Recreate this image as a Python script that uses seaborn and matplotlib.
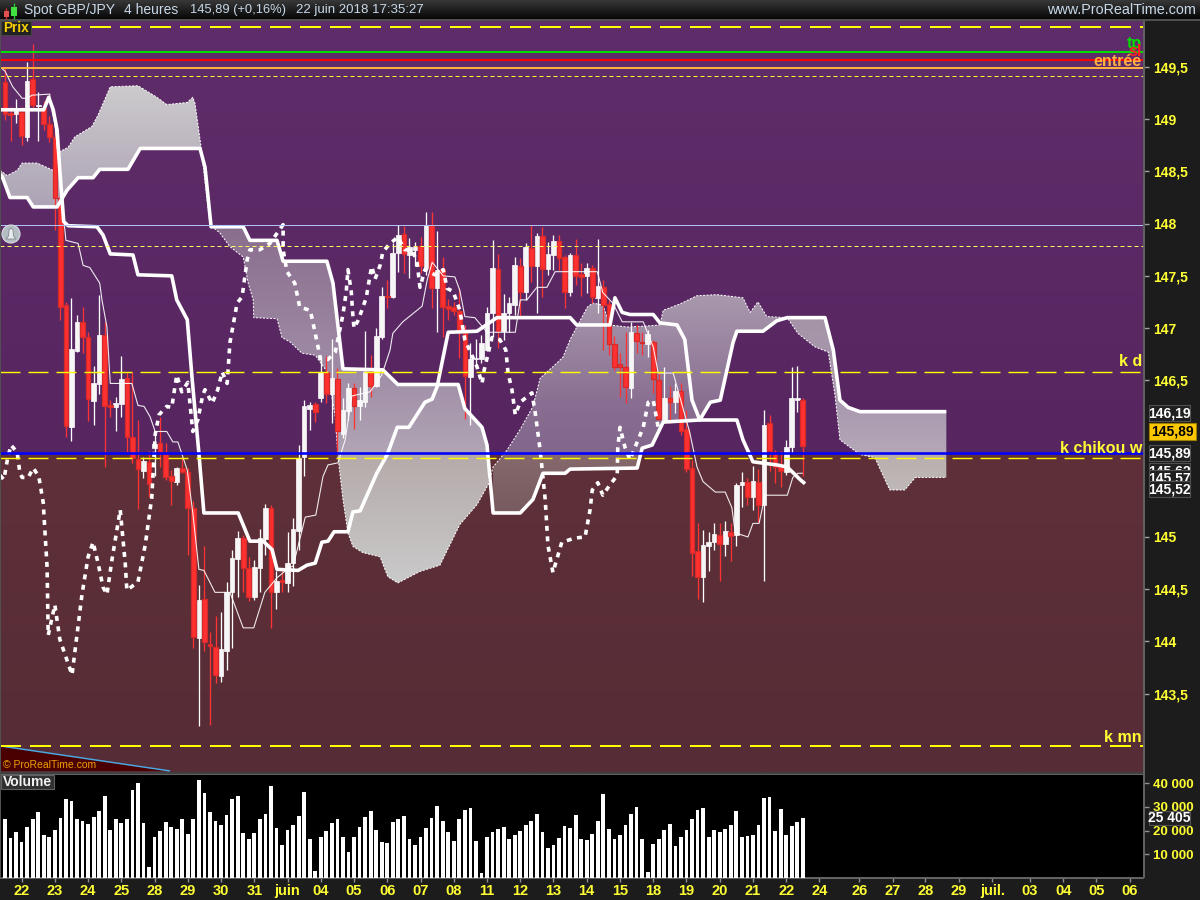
import numpy as np
import pandas as pd
import matplotlib
matplotlib.use("Agg")
import matplotlib.pyplot as plt
from matplotlib.colors import to_rgb
from matplotlib.patches import Rectangle, Polygon, Circle
import seaborn as sns

# ---------- data: candles (price units, one entry per 4h bar) ----------
directions = ("RRWRWRWRRR" "RRWWRRWWRR" "WWRRRWRWRR" "RWRRRWRRRW" "WWWRRWWWRW"
              "RWWWWWRWRW" "RWWRWWRWWR" "WWRWWRWRWR" "RRRRWWWWWR" "WWWRWRWRWW"
              "RRWRRWRWRR" "RRRWRRWRRW" "RWRRRRWWWR" "WRWWRWRWRR" "RWWWR")
highs = [149.49,149.12,149.19,149.12,149.55,149.72,149.26,149.17,149.03,148.90,
         148.32,147.25,147.29,147.13,147.20,146.96,146.64,147.32,147.06,146.31,
         146.34,146.73,146.58,146.58,146.12,145.77,145.82,146.01,146.15,145.90,
         145.64,145.67,145.77,145.66,145.34,144.54,144.91,144.09,144.24,144.28,
         144.57,144.88,145.06,145.02,144.81,144.78,145.08,145.32,145.31,144.67,
         144.70,145.05,145.18,145.88,146.31,146.29,146.29,146.72,146.73,146.90,
         146.62,146.33,146.47,146.47,146.44,146.97,146.74,147.00,147.39,147.46,
         147.81,147.99,147.98,147.86,147.82,147.87,148.11,148.11,147.93,147.68,
         147.28,147.25,147.38,147.03,146.86,146.90,146.93,147.20,147.84,147.71,
         147.33,147.30,147.68,147.67,147.81,147.99,147.91,147.97,147.82,147.89,
         147.89,147.70,147.72,147.85,147.62,147.62,147.60,147.85,147.46,147.27,
         146.92,146.76,146.96,147.06,147.03,146.96,146.98,146.89,146.57,146.63,
         146.45,146.47,146.47,146.22,145.74,145.13,145.07,145.05,145.13,145.13,
         145.15,145.13,145.52,145.62,145.56,145.68,145.65,146.22,146.17,145.83,
         145.82,145.93,146.63,146.64,146.33]
body_tops = [149.36,149.06,149.08,149.07,149.37,149.38,149.14,149.11,148.95,148.83,
         148.25,147.22,146.80,147.06,147.06,146.91,146.47,146.93,146.93,146.26,
         146.28,146.51,146.52,145.96,145.75,145.73,145.72,145.89,145.90,145.81,
         145.58,145.66,145.66,145.62,145.28,144.40,144.41,143.98,143.95,143.93,
         144.47,144.80,144.99,144.99,144.70,144.71,144.99,145.28,145.28,144.58,
         144.59,144.75,145.08,145.76,146.25,146.26,146.27,146.58,146.58,146.52,
         146.51,146.22,146.43,146.43,146.31,146.58,146.58,146.92,147.31,147.31,
         147.72,147.89,147.90,147.78,147.78,147.79,147.99,147.99,147.56,147.57,
         147.21,147.20,147.16,146.95,146.70,146.71,146.86,147.14,147.58,147.57,
         147.14,147.24,147.60,147.59,147.78,147.77,147.88,147.88,147.71,147.83,
         147.83,147.68,147.70,147.70,147.52,147.58,147.58,147.40,147.39,147.23,
         146.85,146.66,146.63,146.96,146.95,146.87,146.94,146.87,146.50,146.33,
         146.33,146.40,146.40,146.03,145.66,144.87,144.92,144.95,145.03,145.02,
         145.06,145.05,145.50,145.53,145.53,145.54,145.53,146.07,146.09,145.81,
         145.67,145.86,146.33,146.33,146.31]
body_bottoms = [149.05,149.04,149.05,148.84,148.83,149.14,149.13,148.95,148.83,148.25,
         147.20,146.06,146.05,146.78,146.91,146.32,146.30,146.46,146.25,146.24,
         146.24,146.27,145.96,145.76,145.65,145.63,145.51,145.85,145.81,145.57,
         145.54,145.53,145.62,145.28,144.04,144.03,143.99,143.96,143.68,143.67,
         143.91,144.47,144.79,144.70,144.43,144.43,144.70,144.98,144.47,144.47,
         144.57,144.56,144.75,145.06,145.77,146.23,146.20,146.33,146.37,146.37,
         146.01,145.99,146.21,146.25,146.25,146.29,146.45,146.45,146.91,147.30,
         147.30,147.72,147.71,147.70,147.75,147.59,147.58,147.38,147.38,147.20,
         147.18,147.16,146.98,146.54,146.53,146.70,146.70,146.79,147.14,146.97,
         146.97,147.14,147.22,147.35,147.35,147.59,147.59,147.57,147.57,147.70,
         147.67,147.35,147.35,147.50,147.49,147.50,147.30,147.29,147.22,146.85,
         146.63,146.63,146.44,146.43,146.88,146.86,146.85,146.51,146.13,146.12,
         146.29,146.29,146.01,145.65,144.85,144.62,144.62,144.91,144.95,144.93,
         144.93,145.01,145.02,145.50,145.38,145.38,145.31,145.31,145.82,145.67,
         145.63,145.62,145.86,146.31,145.87]
lows = [148.99,148.79,148.96,148.75,148.79,149.11,148.79,148.90,148.78,147.94,
         147.08,145.96,145.92,146.77,146.76,146.11,146.07,146.37,145.67,146.15,
         146.01,146.15,145.81,145.71,145.27,145.56,145.38,145.58,145.67,145.55,
         145.31,145.50,145.61,144.83,143.94,143.19,143.91,143.20,143.60,143.61,
         143.73,143.94,144.43,144.47,144.39,144.40,144.47,144.83,144.13,144.31,
         144.47,144.47,144.53,144.88,145.58,146.02,146.10,146.29,146.28,146.09,
         145.82,145.95,146.12,146.03,146.12,146.24,146.34,146.44,146.90,147.19,
         147.29,147.54,147.53,147.48,147.59,147.53,147.51,147.19,146.96,146.91,
         147.08,147.13,146.71,146.13,146.07,146.62,146.67,146.78,146.91,146.81,
         146.89,146.96,147.13,147.11,147.27,147.44,147.14,147.30,147.51,147.56,
         147.55,147.19,147.31,147.41,147.31,147.34,147.24,147.14,146.79,146.74,
         146.60,146.34,146.28,146.33,146.76,146.74,146.72,146.38,146.12,146.10,
         146.09,146.19,145.98,145.62,144.63,144.41,144.38,144.67,144.88,144.58,
         144.82,144.77,144.91,145.29,145.31,145.26,145.14,144.58,145.63,145.52,
         145.48,145.59,145.80,146.20,145.58]
volumes = [24700,16700,19300,15000,21400,24700,27700,18000,17200,20100,
         25200,33200,32300,24700,23900,22600,25600,28100,34400,20100,
         24700,23100,24700,37000,39900,23100,4500,17200,19700,23500,
         21400,20500,24700,18400,24700,41200,35700,27700,23900,22200,
         26400,33200,34400,18800,16300,18800,24700,26900,38700,20900,
         13800,20100,22200,26000,36100,16300,2800,17200,19700,23100,
         24700,17200,10800,17200,21400,25600,28100,20100,15000,14600,
         23500,24700,26000,16300,13800,17200,20900,25200,30200,23900,
         19300,15500,24700,28500,29400,15500,2000,17200,19300,20500,
         21400,16300,18000,19700,22200,23900,26900,19300,12500,13800,
         16700,21800,20900,26400,16300,15900,18400,23900,35300,20500,
         16300,18000,22200,26900,29800,16300,2400,14200,16300,20100,
         22600,13400,17200,20100,24700,28500,29400,17200,20100,19300,
         20500,22200,28100,17200,17600,18000,22200,33600,34000,19700,
         29000,18000,21800,23500,25200]

# ---------- data: indicator series (bar position, price) ----------
kijun_bar = [-0.9,7.0,7.9,8.7,9.4,9.9,10.6,11.4,16.6,17.7,19.0,23.1,24.0,30.1,31.0,32.9,33.8,35.0,35.9,42.1,
             44.2,46.6,48.2,49.1,52.9,54.5,56.0,57.2,58.3,59.4,61.9,62.8,64.1,67.1,69.0,70.8,72.9,75.8,77.1,78.0,
             80.0,85.2,88.8,102.0,103.2,109.2,110.1,111.4,112.8,117.0,118.2,121.3,122.7,124.0,125.4,132.1,133.2,135.0,139.3,141.2,143.5,144.4]
kijun_price = [149.09,149.09,149.21,149.09,148.90,148.51,148.02,147.98,147.97,147.89,147.71,147.70,147.51,147.50,147.27,147.08,146.50,145.80,145.23,145.23,
             144.96,144.96,144.88,144.69,144.68,144.73,144.75,144.95,144.96,145.05,145.05,145.24,145.25,145.61,145.79,146.05,146.05,146.29,146.32,146.44,
             146.96,146.97,147.10,147.10,147.03,147.03,147.29,147.15,147.13,147.13,147.05,147.03,146.89,146.31,146.12,146.12,145.93,145.72,145.69,145.67,145.55,145.51]
ssb_bar = [-0.9,-0.5,0.9,4.0,5.1,9.4,11.2,13.2,15.9,17.1,22.2,24.4,35.2,36.1,37.2,43.0,44.2,49.1,50.2,58.1,
           59.2,61.0,68.2,70.9,81.8,83.0,86.1,87.0,88.1,93.0,95.3,97.1,101.1,102.0,114.1,115.0,116.8,118.8,125.4,127.3,
           129.1,131.4,132.1,136.8,139.3,141.2,148.0,149.5,150.7,152.2,154.3,169.9]
ssb_price = [148.47,148.45,148.25,148.25,148.16,148.16,148.32,148.44,148.44,148.52,148.52,148.72,148.72,148.54,147.97,147.97,147.84,147.84,147.64,147.64,
           147.43,146.61,146.60,146.46,146.46,146.23,146.05,145.88,145.23,145.23,145.36,145.61,145.61,145.65,145.66,145.85,145.88,146.10,146.12,146.29,
           146.31,146.86,146.97,146.97,147.07,147.10,147.10,146.79,146.31,146.24,146.20,146.20]
ssa_bar = [-0.9,0.4,2.2,3.1,5.8,8.7,9.9,11.4,12.6,15.7,16.8,19.0,24.0,27.4,29.2,32.9,33.9,34.3,35.4,37.0,
           38.8,40.6,43.0,43.9,44.8,44.9,49.1,50.0,51.4,53.6,56.0,58.3,59.6,60.1,61.0,61.9,62.8,64.6,67.7,69.1,
           70.9,74.9,78.5,82.1,85.2,87.2,88.1,90.6,93.0,95.3,96.6,98.9,100.7,102.0,103.4,105.1,106.1,107.9,109.2,112.3,
           115.9,118.2,118.8,121.8,124.9,128.5,133.2,134.5,135.9,137.5,141.2,143.1,146.2,148.6,149.8,150.7,154.3,157.0,159.7,162.4,164.3,169.9]
ssa_price = [148.51,148.46,148.51,148.58,148.58,148.51,148.69,148.73,148.83,148.93,149.04,149.31,149.32,149.21,149.14,149.16,149.21,149.15,148.73,147.99,
           147.91,147.78,147.68,147.43,147.27,147.10,147.09,146.91,146.87,146.76,146.74,146.57,146.15,145.77,145.36,145.04,144.91,144.85,144.81,144.62,
           144.56,144.67,144.73,145.12,145.31,145.50,145.67,145.83,146.03,146.25,146.52,146.63,146.72,146.89,147.03,147.20,147.24,147.22,147.03,147.01,
           147.02,147.03,147.17,147.23,147.31,147.32,147.29,147.15,147.25,147.11,147.10,146.95,146.82,146.77,146.36,145.93,145.79,145.76,145.45,145.45,145.57,145.57]
tenkan_bar = [-0.9,0.0,1.4,3.1,4.0,4.9,8.1,8.1,9.0,9.9,10.5,11.0,13.2,14.1,15.3,17.1,17.5,18.4,19.0,22.9,
              24.0,25.1,26.2,27.1,29.2,30.3,31.2,32.9,33.9,35.0,35.9,37.9,40.6,43.0,44.9,46.9,49.1,51.4,52.0,54.2,
              56.1,57.4,58.3,60.1,61.4,62.6,65.9,68.0,69.5,70.0,71.8,75.3,76.2,77.1,79.1,81.2,82.1,83.0,84.8,87.0,
              92.1,93.0,94.2,96.0,97.8,99.3,106.9,107.9,109.7,111.4,115.2,117.0,117.9,120.6,123.6,124.9,126.0,128.2,130.0,131.2,
              131.8,134.1,135.0,136.1,137.2,141.2,142.2,143.1,144.0]
tenkan_price = [149.50,149.46,149.31,149.20,149.20,149.23,149.24,149.18,148.96,148.47,148.10,147.84,147.81,147.60,147.58,147.43,147.27,147.01,146.47,146.47,
              146.26,146.25,146.15,146.01,146.01,145.91,145.91,145.64,145.23,144.69,144.68,144.47,144.47,144.13,144.13,144.47,144.61,144.71,144.72,145.19,
              145.21,145.58,145.69,145.71,145.93,146.35,146.39,146.55,146.79,146.95,147.06,147.21,147.46,147.63,147.50,147.49,147.36,147.11,147.10,146.96,
              146.96,147.27,147.27,147.39,147.39,147.54,147.54,147.34,147.24,147.06,147.06,146.82,146.57,146.57,146.00,145.67,145.53,145.43,145.43,145.28,
              145.04,145.00,145.13,145.13,145.40,145.40,145.57,145.61,145.61]
chikou_bar = [-0.9,-0.2,0.5,1.1,2.2,2.7,3.1,4.2,5.1,6.1,6.9,7.6,7.8,9.0,9.9,12.1,13.9,15.0,15.9,16.8,
              17.7,18.4,19.3,20.8,21.7,22.0,24.0,25.3,26.5,27.1,27.8,29.2,30.1,31.0,31.9,33.0,33.9,34.8,35.7,36.1,
              37.4,38.4,39.2,40.1,40.6,41.9,42.8,43.7,44.2,46.0,47.8,50.2,50.2,50.9,52.3,53.2,55.1,55.6,56.5,56.9,
              58.3,59.6,60.5,61.0,61.6,61.9,62.5,62.8,63.0,63.7,64.4,65.2,65.9,66.2,66.8,67.7,68.2,69.5,70.9,72.2,
              73.5,74.4,74.9,75.8,77.6,79.1,79.8,80.9,82.1,83.0,85.2,86.1,86.5,87.9,89.3,90.4,90.8,91.5,92.1,93.0,
              95.1,95.7,96.6,97.5,98.0,98.9,100.5,102.9,104.7,105.6,106.0,107.0,107.9,109.2,110.5,110.6,111.0,111.9,112.8,115.2,
              116.1,117.0,117.9]
chikou_price = [145.59,145.55,145.76,145.88,145.81,145.61,145.57,145.57,145.66,145.58,145.33,144.71,144.06,144.35,144.02,143.68,144.45,144.81,144.95,144.75,
              144.52,144.45,144.78,145.26,144.75,144.49,144.57,144.92,145.38,145.98,146.17,146.25,146.24,146.55,146.39,146.48,146.01,146.12,146.36,146.41,
              146.28,146.41,146.58,146.47,146.86,147.24,147.30,147.65,147.75,147.75,147.81,147.99,147.75,147.54,147.43,147.20,147.17,147.05,146.82,146.71,
              146.70,146.77,147.00,147.13,147.35,147.56,147.35,147.11,147.00,147.07,147.17,147.29,147.51,147.59,147.47,147.60,147.73,147.81,147.87,147.75,
              147.75,147.62,147.39,147.56,147.51,147.56,147.38,147.35,147.17,146.89,146.63,146.47,146.60,146.91,146.89,146.79,146.57,146.41,146.17,146.29,
              146.38,146.19,145.83,145.36,144.92,144.66,144.95,144.99,145.00,145.26,145.45,145.52,145.40,145.50,145.59,145.85,146.05,145.86,145.74,146.05,
              146.29,146.31,146.05]

# ---------- data: levels, ticks ----------
level_top, level_tp, level_sl, level_entry, level_dash1 = 149.88, 149.64, 149.57, 149.49, 149.41
level_blue, level_dash2, level_kd, level_chikou, level_dash3, level_kmn = 147.99, 147.79, 146.58, 145.80, 145.76, 143.0
price_ticks = [149.5, 149, 148.5, 148, 147.5, 147, 146.5, 145, 144.5, 144, 143.5]
price_tick_labels = ["149,5", "149", "148,5", "148", "147,5", "147", "146,5", "145", "144,5", "144", "143,5"]
volume_ticks = [10000, 20000, 30000, 40000]
volume_tick_labels = ["10 000", "20 000", "30 000", "40 000"]
date_ticks = [3, 9, 15, 21, 27, 33, 39, 45, 51, 57, 63, 69, 75, 81, 87, 93, 99, 105, 111, 117, 123, 129, 135, 141,
              147, 154.2, 160.2, 166.1, 172.1, 178.2, 185, 191, 197, 203]
date_labels = ["22", "23", "24", "25", "28", "29", "30", "31", "juin", "04", "05", "06", "07", "08", "11", "12", "13",
               "14", "15", "18", "19", "20", "21", "22", "24", "26", "27", "28", "29", "juil.", "03", "04", "05", "06"]

# ---------- style ----------
sns.set_theme(style="dark")
NARROW = ["Liberation Sans Narrow", "Liberation Sans", "DejaVu Sans"]
plt.rcParams["font.family"] = ["Liberation Sans", "DejaVu Sans"]
plt.rcParams["lines.scale_dashes"] = False
plt.rcParams["lines.solid_capstyle"] = "butt"
plt.rcParams["lines.dash_capstyle"] = "butt"
plt.rcParams["lines.solid_joinstyle"] = "round"
PX = 0.72
YEL = "#ffff33"
PANEL = "#1c1c1c"

fig = plt.figure(figsize=(12, 9), dpi=100, facecolor=PANEL)
ax = fig.add_axes([0, (900 - 772) / 900, 1143 / 1200, (772 - 21) / 900])
axv = fig.add_axes([0, (900 - 878) / 900, 1143 / 1200, (878 - 774) / 900], facecolor="black")
XMIN, XMAX = -0.9, 205.4
YMIN, YMAX = 142.75, 149.94


def gradient(axis, stops, extent, zorder):
    prices = np.array([s[0] for s in stops], float)
    cols = np.array([to_rgb(s[1]) for s in stops])
    grid = np.linspace(extent[3], extent[2], 500)
    order = np.argsort(prices)
    img = np.stack([np.interp(grid, prices[order], cols[order][:, k]) for k in range(3)], axis=1)[:, None, :]
    return axis.imshow(img, extent=extent, aspect="auto", origin="upper", zorder=zorder, interpolation="bilinear")


# background
gradient(ax, [(149.94, "#5f2e6a"), (145.80, "#572661"), (145.799, "#5f3039"), (142.75, "#562c36")],
         [XMIN, XMAX, YMIN, YMAX], 0)
ax.add_patch(Polygon([(XMIN, 143.0), (29.8, 142.76), (XMIN, 142.76)], closed=True, facecolor="#4a0000", edgecolor="none", zorder=1))
sns.lineplot(x=[XMIN, 29.8], y=[143.0, 142.76], color="#4aa8e0", lw=1.5 * PX, ax=ax, zorder=1.1, estimator=None, errorbar=None, sort=False)

# clouds
xs = np.unique(np.concatenate([np.array(ssa_bar), np.array(ssb_bar)]))
a_i = np.interp(xs, ssa_bar, ssa_price)
b_i = np.interp(xs, ssb_bar, ssb_price)
clouds = [
    (-0.9, 35.4, [(149.32, "#cdcbcd"), (148.2, "#aea4b6")]),
    (37.0, 87.4, [(147.97, "#8a6e8e"), (146.6, "#a08ca6"), (145.80, "#b0a5b5"), (145.79, "#b5aaaa"), (144.55, "#cacaca")]),
    (87.4, 141.2, [(147.3, "#a898ad"), (146.3, "#8a6f92"), (145.80, "#82668c"), (145.79, "#86696c"), (145.2, "#775a5e")]),
    (141.2, 169.9, [(147.1, "#a594a8"), (146.2, "#aa9bb0"), (145.80, "#b5a8b8"), (145.79, "#b8aeae"), (145.45, "#c0b8b8")]),
]
for x0, x1, stops in clouds:
    m = (xs >= x0) & (xs <= x1)
    poly = ax.fill_between(xs[m], a_i[m], b_i[m], facecolor="none", edgecolor="none", zorder=2)
    lo, hi = min(a_i[m].min(), b_i[m].min()), max(a_i[m].max(), b_i[m].max())
    im = gradient(ax, stops, [x0, x1, lo, hi], 2)
    im.set_clip_path(poly.get_paths()[0], transform=ax.transData)
sns.lineplot(x=ssa_bar, y=ssa_price, color="white", lw=1.0 * PX, linestyle=(0, (2 * PX, 1.5 * PX)), ax=ax,
             zorder=2.5, estimator=None, errorbar=None, sort=False)

# candles
bars = np.arange(len(highs))
up = np.array([d == "W" for d in directions])
c = np.where(up, "#ffffff", "#ff3333")
ax.vlines(bars, lows, highs, colors=c, lw=1.3 * PX, zorder=3)
tops, bots = np.array(body_tops), np.array(body_bottoms)
ax.bar(bars[up], (tops - bots)[up], bottom=bots[up], width=0.84, color="#f6f6f6", edgecolor="#ffffff", lw=0.5, zorder=3.2)
ax.bar(bars[~up], (tops - bots)[~up], bottom=bots[~up], width=0.84, color="#ff3030", edgecolor="#d42a2a", lw=0.9, zorder=3.2)

# ichimoku lines
line_kw = dict(ax=ax, estimator=None, errorbar=None, sort=False)
sns.lineplot(x=tenkan_bar, y=tenkan_price, color="white", lw=1.1 * PX, alpha=0.9, zorder=4, **line_kw)
sns.lineplot(x=kijun_bar, y=kijun_price, color="white", lw=3.6 * PX, zorder=5, **line_kw)
sns.lineplot(x=ssb_bar, y=ssb_price, color="white", lw=3.6 * PX, zorder=5, **line_kw)
sns.lineplot(x=chikou_bar, y=chikou_price, color="white", lw=3.6 * PX, linestyle=(0, (5 * PX, 5.5 * PX)), zorder=5.5, **line_kw)

# horizontal levels
ax.axhline(level_top, color="#ffff00", lw=2 * PX, ls=(0, (21 * PX, 9 * PX)), zorder=6)
ax.axhline(level_tp, color="#00e000", lw=2 * PX, zorder=6)
ax.axhline(level_sl, color="#ff0000", lw=2 * PX, zorder=6)
ax.axhline(level_entry, color="#ffb040", lw=2 * PX, zorder=6)
ax.axhline(level_dash1, color="#ffff30", lw=1 * PX, ls=(0, (4 * PX, 3 * PX)), zorder=6)
ax.axhline(level_blue, color="#b0c0f8", lw=1 * PX, zorder=6)
ax.axhline(level_dash2, color="#ffff60", lw=1 * PX, ls=(0, (4 * PX, 3 * PX)), zorder=6)
ax.axhline(level_kd, color="#ffff00", lw=1.4 * PX, ls=(0, (20 * PX, 8 * PX)), zorder=6)
ax.axhline(level_chikou, color="#0000ff", lw=2.6 * PX, zorder=6)
ax.axhline(level_dash3, color="#ffff00", lw=1.4 * PX, ls=(0, (20 * PX, 8 * PX)), zorder=6)
ax.axhline(level_kmn, color="#ffff00", lw=2 * PX, ls=(0, (21 * PX, 9 * PX)), zorder=6)

# level names
tx = 205.2
lab = dict(ha="right", va="center", fontsize=11.5, zorder=7)
ax.text(tx, 149.98, "k w", color=YEL, fontweight="bold", clip_on=True, **lab)
ax.text(tx, 149.72, "tp", color="#00e000", fontweight="bold", **lab)
ax.text(tx, 149.65, "sl", color="#ff2020", fontweight="bold", **lab)
ax.text(tx, 149.55, "entrée", color="#ffb040", fontweight="bold", **lab)
ax.text(tx, 146.68, "k d", color=YEL, fontweight="bold", **lab)
ax.text(tx, 145.85, "k chikou w", color=YEL, fontweight="bold", **lab)
ax.text(tx, 143.08, "k mn", color=YEL, fontweight="bold", **lab)
ax.text(-0.4, 142.82, "© ProRealTime.com", color="#f0a000", fontsize=7.5, ha="left", va="center", zorder=7)

ax.set_xlim(XMIN, XMAX)
ax.set_ylim(YMIN, YMAX)
ax.set_xticks([])
ax.yaxis.tick_right()
ax.set_yticks(price_ticks)
ax.set_yticklabels(price_tick_labels, color=YEL, fontsize=10, fontweight="bold", family=NARROW)
ax.tick_params(axis="y", length=4, width=1, color="#a0a0a0", pad=3, right=True)
ax.grid(False)
for s in ax.spines.values():
    s.set_visible(False)

# volume
dfv = pd.DataFrame({"bar": bars, "volume": volumes})
sns.barplot(data=dfv, x="bar", y="volume", native_scale=True, color="white", saturation=1, width=0.68, linewidth=0, ax=axv, zorder=3)
axv.set_xlim(XMIN, XMAX)
axv.set_ylim(0, 43800)
axv.set_xlabel("")
axv.set_ylabel("")
axv.grid(False)
axv.yaxis.tick_right()
axv.set_yticks(volume_ticks)
axv.set_yticklabels(volume_tick_labels, color=YEL, fontsize=9.5, fontweight="bold", family=NARROW)
axv.set_xticks(date_ticks)
axv.set_xticklabels(date_labels, color=YEL, fontsize=10.5, fontweight="bold", family=NARROW)
axv.tick_params(axis="y", length=4, width=1, color="#909090", pad=3, right=True)
axv.tick_params(axis="x", length=3, width=1, color="#909090", pad=1.5, bottom=True)
for k, s in axv.spines.items():
    s.set_visible(k in ("top", "bottom"))
    s.set_color("#707070")

# chrome: header, captions and price boxes, in a figure-wide overlay
ch = fig.add_axes([0, 0, 1, 1], facecolor="none", zorder=10)
ch.axis("off")
head = np.linspace(0.22, 0.03, 60)[:, None]
ch.imshow(head, extent=[0, 1200, 19, 0], cmap="gray", vmin=0, vmax=1, aspect="auto", zorder=1)
ch.set_xlim(0, 1200)
ch.set_ylim(900, 0)
ch.add_patch(Rectangle((0, 19), 1200, 2, facecolor="#505050", edgecolor="none", zorder=2))
ch.add_patch(Rectangle((1143, 21), 1.5, 857, facecolor="#606060", edgecolor="none", zorder=2))
ch.add_patch(Rectangle((0, 21), 1, 857, facecolor="#505050", edgecolor="none", zorder=2))
ch.add_patch(Rectangle((0, 772), 1143, 2, facecolor="#404040", edgecolor="none", zorder=2))
ch.vlines(6, 8, 19, color="#d03030", lw=1, zorder=2.5)
ch.add_patch(Rectangle((3.5, 11), 5.5, 6, facecolor="#e05050", edgecolor="none", zorder=3))
ch.vlines(14, 3, 19, color="#30c030", lw=1, zorder=2.5)
ch.add_patch(Rectangle((11, 7), 6, 9, facecolor="#40e040", edgecolor="none", zorder=3))
htxt = dict(color="#c8d8e8", va="center", ha="left", zorder=3)
ch.text(24, 10, "Spot GBP/JPY", fontsize=10, **htxt)
ch.text(124, 10, "4 heures", fontsize=10, **htxt)
ch.text(190, 10, "145,89 (+0,16%)", fontsize=9.3, **htxt)
ch.text(296, 10, "22 juin 2018 17:35:27", fontsize=9.5, **htxt)
ch.text(1047, 10, "www.ProRealTime.com", fontsize=10.4, **htxt)
ch.add_patch(Rectangle((1, 21), 30, 14, facecolor="#222222", edgecolor="#444444", lw=0.8, zorder=3))
ch.text(3, 28.5, "Prix", color="#f8d000", fontsize=9.8, fontweight="bold", va="center", ha="left", zorder=4)
ch.add_patch(Rectangle((1, 775), 53, 14, facecolor="#303030", edgecolor="#606060", lw=0.8, zorder=3))
ch.text(3, 782, "Volume", color="#f0f0f0", fontsize=10, fontweight="bold", va="center", ha="left", zorder=4)
ch.add_patch(Circle((11, 234), 9, facecolor="#b4bcc4", edgecolor="#d8dde0", lw=0.8, zorder=3))
ch.add_patch(Polygon([(6, 239), (8.5, 236), (9, 230), (11, 228), (13, 230), (13.5, 236), (16, 239)], closed=True,
                     facecolor="#e8ecf0", edgecolor="#80888e", lw=0.6, zorder=4))

box_order = [5.0]


def box(y, h, txt, face="#202020", color="white", x=1149, w=41, edge="#505050"):
    z = box_order[0]
    box_order[0] += 1
    clip = Rectangle((x, y), w, h, facecolor=face, edgecolor=edge, lw=0.8, zorder=z)
    ch.add_patch(clip)
    t = ch.text(x + w / 2, y + h / 2 + 0.5, txt, color=color, fontsize=10, fontweight="bold", family=NARROW,
                ha="center", va="center", zorder=z + 0.5)


box(405, 16, "146,19")
box(445, 16, "145,89")
box(463, 16, "145,62")
box(470, 16, "145,57")
box(481, 16, "145,52")
box(423, 17, "145,89", face="#ffc800", color="black", x=1149, w=47, edge="#a08000")
box(811, 14, "25 405", face="#202020", w=41)

fig.savefig("out.png", dpi=100, facecolor=fig.get_facecolor())
